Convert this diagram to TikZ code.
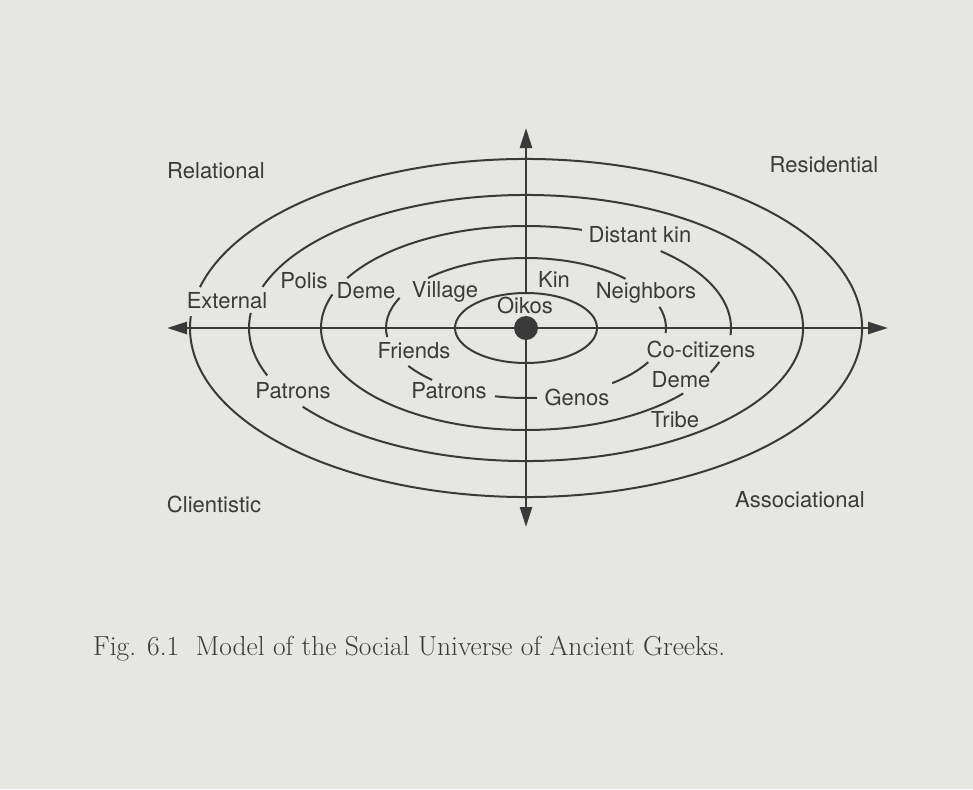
\documentclass[tikz,border=0pt]{standalone}
\usepackage{fontspec}
\setsansfont{TeX Gyre Heros}
\usetikzlibrary{arrows.meta}
\definecolor{page}{HTML}{E6E6E3}
\definecolor{ink}{HTML}{3A3A3A}
\tikzset{word node/.style={font=\sffamily\fontsize{22}{26}\selectfont,text=ink,inner sep=0pt,anchor=base}}
\tikzset{ring line/.style={draw=ink,line width=2pt}}
\tikzset{axis line/.style={draw=ink,line width=2.6pt,-{Triangle[length=20pt,width=12pt]}}}

\begin{document}
\begin{tikzpicture}[x=1pt,y=-1pt]
        \fill[page] (0,0) rectangle (973,789);
        \useasboundingbox (0,0) rectangle (973,789);

        \coordinate (c) at (526,328);
        \coordinate (w) at (167,328);
        \coordinate (e) at (888,328);
        \coordinate (n) at (526,128);
        \coordinate (s) at (526,527);
        \coordinate (oikos top) at (526,293);

        % rings, broken where the words sit
        \begin{scope}[shift={(526,328)}]
        \draw[ring line] (194:336 and 169) arc[start angle=194,end angle=544,x radius=336,y radius=169];
        \draw[ring line] (198:277 and 133) arc[start angle=198,end angle=503.7,x radius=277,y radius=133];
        \draw[ring line] (159.1:277 and 133) arc[start angle=159.1,end angle=186.5,x radius=277,y radius=133];
        \draw[ring line] (209.3:205 and 102) arc[start angle=209.3,end angle=285.8,x radius=205,y radius=102];
        \draw[ring line] (311.1:205 and 102) arc[start angle=311.1,end angle=364,x radius=205,y radius=102];
        \draw[ring line] (19.4:205 and 102) arc[start angle=19.4,end angle=25.8,x radius=205,y radius=102];
        \draw[ring line] (39.9:205 and 102) arc[start angle=39.9,end angle=199.2,x radius=205,y radius=102];
        \draw[ring line] (225.6:140 and 70) arc[start angle=225.6,end angle=315.3,x radius=140,y radius=70];
        \draw[ring line] (342.4:140 and 70) arc[start angle=342.4,end angle=364.1,x radius=140,y radius=70];
        \draw[ring line] (29.2:140 and 70) arc[start angle=29.2,end angle=52,x radius=140,y radius=70];
        \draw[ring line] (85.5:140 and 70) arc[start angle=85.5,end angle=102.8,x radius=140,y radius=70];
        \draw[ring line] (132.1:140 and 70) arc[start angle=132.1,end angle=147.2,x radius=140,y radius=70];
        \draw[ring line] (172.6:140 and 70) arc[start angle=172.6,end angle=205.5,x radius=140,y radius=70];
        \draw[ring line] (0,0) ellipse[x radius=71,y radius=35];
        \end{scope}

        % axes
        \draw[axis line] (c) -- (w);
        \draw[axis line] (c) -- (e);
        \draw[axis line] (c) -- (s);
        \draw[axis line] (oikos top) -- (n);
        \fill[ink] (c) circle[radius=12];

        % corner words
        \node[word node] (relational) at (216,178) {Relational};
        \node[word node] (residential) at (824,172) {Residential};
        \node[word node] (clientistic) at (214,512) {Clientistic};
        \node[word node] (associational) at (800,507) {Associational};

        % ring words
        \node[word node] (external) at (227,308) {External};
        \node[word node] (polis) at (304,288) {Polis};
        \node[word node] (deme left) at (366,298) {Deme};
        \node[word node] (village) at (445,297) {Village};
        \node[word node] (kin) at (554,287) {Kin};
        \node[word node] (oikos) at (525,313) {Oikos};
        \node[word node] (distant kin) at (640,242) {Distant kin};
        \node[word node] (neighbors) at (646,298) {Neighbors};
        \node[word node] (friends) at (414,358) {Friends};
        \node[word node] (co-citizens) at (701,357) {Co-citizens};
        \node[word node] (patrons out) at (293,398) {Patrons};
        \node[word node] (patrons in) at (449,398) {Patrons};
        \node[word node] (deme right) at (681,387) {Deme};
        \node[word node] (genos) at (577,405) {Genos};
        \node[word node] (tribe) at (675,427) {Tribe};

        \node[anchor=base west,inner sep=0pt,text=ink,font=\fontsize{27.5}{32}\selectfont] (caption) at (93,655)
        {Fig. 6.1\ \ Model of the Social Universe of Ancient Greeks.};
    \end{tikzpicture}
\end{document}
